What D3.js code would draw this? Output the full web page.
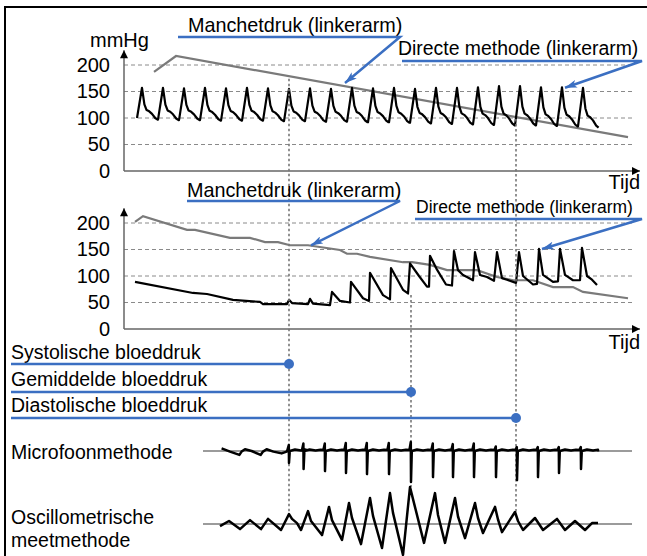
<!DOCTYPE html>
<html>
<head>
<meta charset="utf-8">
<script src="https://cdn.jsdelivr.net/npm/d3@7"></script>
<style>
  body { margin: 0; background: #fff; }
  svg { display: block; font-family: "Liberation Sans", Arial, sans-serif; }
</style>
</head>
<body>
<div id="chart"></div>
<script>
// ---------- data (time in s, pressure in mmHg) ----------
const yTicks = [0, 50, 100, 150, 200]
const gridTicks = [50, 100, 150, 200]

// top panel: cuff pressure
const cuffTopT = [1.5, 2.6, 25.2]
const cuffTopP = [187, 217, 64]

// top panel: direct arterial pressure, one entry per beat
const beatPeakT = [0.9, 1.95, 3.0, 4.05, 5.1, 6.15, 7.2, 8.25, 9.3, 10.35, 11.4,
                   12.45, 13.5, 14.55, 15.6, 16.65, 17.7, 18.75, 19.8, 20.85, 21.9, 22.95]
const beatPeakP = [157, 157, 156, 157, 156, 157, 156, 155, 156, 155, 157,
                   156, 157, 155, 157, 157, 158, 160, 160, 158, 158, 157]
const beatBaseP = [100, 97, 96, 96, 95, 95, 95, 94, 94, 93, 93,
                   92, 92, 91, 90, 89, 88, 87, 86, 86, 85, 84, 82]
// shape of one beat: seconds from peak, share of pulse height
const pulseShapeT = [-0.25, 0, 0.12, 0.23, 0.36, 0.5, 0.66, 0.78]
const pulseShapeF = [0, 1, 0.48, 0.3, 0.26, 0.18, 0.05, 0]

// lower panel: cuff pressure
const cuffLowT = [0.55, 0.95, 3.15, 3.55, 5.3, 6.3, 7.05, 7.7, 8.3, 9.2, 10.8, 11.15, 11.65,
                  12.3, 13.95, 14.4, 15.3, 16.15, 17.65, 18.65, 19.45, 20.45, 21.45, 22.45, 22.95, 25.2]
const cuffLowP = [202, 213, 187, 187, 172, 172, 164, 164, 158, 158, 149, 142, 142,
                  136, 126, 126, 121, 111, 111, 98, 92, 92, 79, 79, 70, 58]

// lower panel: direct arterial pressure
const artLowT = [0.55, 3.45, 4.15, 5.45, 6.8, 6.95, 8.15, 8.25, 8.4, 9.2, 9.3, 9.45, 10.3,
                 10.4, 10.8, 11.3, 11.35, 11.95, 12.25, 12.3, 12.95, 13.3, 13.35, 13.95, 14.2,
                 14.3, 14.75, 15.15, 15.25, 15.3, 15.65, 16.1, 16.4, 16.5, 16.7, 16.95, 17.15, 17.45,
                 17.55, 17.8, 18.15, 18.5, 18.65, 18.9, 19.15, 19.6, 19.75, 19.95, 20.45, 20.65,
                 20.75, 20.95, 21.45, 21.7, 21.8, 22.05, 22.45, 22.8, 22.9, 23.15, 23.4, 23.65]
const artLowP = [89, 68, 66, 55, 51, 47, 47, 55, 49, 47, 57, 48, 45,
                 70, 53, 50, 89, 58, 53, 106, 64, 56, 115, 74, 67,
                 124, 100, 80, 80, 138, 112, 84, 82, 147, 111, 102, 98, 92,
                 145, 102, 98, 91, 145, 96, 93, 87, 145, 100, 84, 85,
                 151, 102, 89, 90, 151, 102, 92, 92, 153, 100, 93, 83]

// microphone method (arbitrary units)
const micPreT = [4.88, 5.3, 5.77, 5.88, 6.05, 6.38, 6.83, 6.95, 7.13, 7.47, 7.88, 8.13]
const micPreV = [0.9, -0.2, -1.3, -0.2, 0.6, 0, -1.3, -0.2, 0.6, -0.2, -0.8, -0.2]
const micBeatT = [8.25, 8.98, 10.05, 11.1, 12.15, 13.25, 14.35, 15.45, 16.45, 17.5,
                  18.6, 19.65, 20.7, 21.75, 22.85]
const micBeatDepth = [4, 6, 6.7, 7.3, 7.7, 7.7, 10.3, 8.7, 8.7, 8.7, 8.7, 9.7, 8.7, 7.3, 6]
const micBeatUp = [2, 2.5, 2.5, 2.7, 2.7, 2.7, 3, 2.5, 2.3, 2.5, 1.5, 1.3, 1.3, 1.3, 1.3]
const micEnd = [23.7, -0.2]

// oscillometric method (arbitrary units)
const oscT = [4.8, 5.25, 5.8, 6.3, 6.85, 7.2, 7.85, 8.25, 8.4, 8.65, 8.85, 9.2, 9.35, 9.9,
              10.25, 10.4, 10.9, 11.25, 11.4, 11.85, 12.3, 12.45, 12.9, 13.3, 13.45, 13.95,
              14.3, 15.0, 15.55, 15.7, 16.05, 16.55, 16.7, 17.05, 17.55, 17.7, 17.95,
              18.55, 18.7, 18.9, 19.55, 19.7, 19.95, 20.55, 20.95, 21.65, 22.05, 22.55, 23.05, 23.4, 23.7]
const oscV = [-0.7, 1, -1.7, 1.3, -1.7, 1.7, -2, 3.3, 1.7, 0.3, -2, 4.3, 1, -3.7,
              5.7, 1.3, -5.3, 7, 2, -6.7, 8.7, 2.7, -8, 10.3, 3.7, -10.3,
              12.3, -6.3, 10.3, 3, -6.3, 8.7, 2.5, -4.7, 7, 2, -3,
              5.7, 1.5, -2.7, 4, 1, -2, 2, -2, 1.7, -2, 1, -2, 0.3, 0.3]

// blood pressure read-outs
const bpNames = ["Systolische bloeddruk", "Gemiddelde bloeddruk", "Diastolische bloeddruk"]
const bpT = [8.25, 14.35, 19.6]
const bpStartPanel = ["top", "low", "top"]
const bpStartP = [174, 64, 98]
const bpEndOsc = [3.3, 12.3, 4]

// annotation targets [time, mmHg]
const annTop = [[11.05, 166], [22.05, 157]]
const annLow = [[9.35, 158], [20.9, 151]]

// ---------- drawing ----------
const svg = d3.select("#chart").append("svg")
    .attr("width", 647)
    .attr("height", 556)

const blue = "#3b6fc2"
const grey = "#7a7a7a"

const defs = svg.append("defs")
defs.append("marker").attr("id", "arrowBlk")
    .attr("viewBox", "0 0 10 10").attr("refX", 10).attr("refY", 5)
    .attr("markerUnits", "userSpaceOnUse")
    .attr("markerWidth", 10).attr("markerHeight", 8)
    .attr("orient", "auto")
    .append("path").attr("d", "M0,0L10,5L0,10z").attr("fill", "#000")
defs.append("marker").attr("id", "arrowBlue")
    .attr("viewBox", "0 0 12 8").attr("refX", 12).attr("refY", 4)
    .attr("markerUnits", "userSpaceOnUse")
    .attr("markerWidth", 12).attr("markerHeight", 8)
    .attr("orient", "auto")
    .append("path").attr("d", "M0,0L12,4L0,8L3,4z").attr("fill", blue)

// frame
svg.append("path")
    .attr("d", "M5,560V7H660")
    .attr("fill", "none").attr("stroke", "#000").attr("stroke-width", 2)

const x = d3.scaleLinear().domain([0, 25.8]).range([124, 640])
const yTop = d3.scaleLinear().domain([0, 200]).range([171, 65])
const yLow = d3.scaleLinear().domain([0, 200]).range([329, 223])
const yMic = d3.scaleLinear().domain([-10, 10]).range([481, 421])
const yOsc = d3.scaleLinear().domain([-10, 10]).range([554, 494])
const gridEnd = 25.4
const axisTop = 228

function panel(y) {
    let g = svg.append("g")
    g.selectAll("line.grid").data(gridTicks).enter().append("line")
        .attr("x1", x(0)).attr("x2", x(gridEnd))
        .attr("y1", d => y(d)).attr("y2", d => y(d))
        .attr("stroke", "#8a8a8a").attr("stroke-width", 1)
        .attr("stroke-dasharray", "4,3")

    let ax = g.append("g")
        .attr("transform", "translate(" + x(0) + ",0)")
        .call(d3.axisLeft(y).tickValues(yTicks).tickSize(0).tickPadding(14))
    ax.select(".domain").remove()
    ax.selectAll("text")
        .style("font-size", "20px")
        .attr("fill", "#000")
        .attr("font-family", "'Liberation Sans', Arial, sans-serif")

    g.append("line")
        .attr("x1", x(0)).attr("x2", x(0))
        .attr("y1", y(0)).attr("y2", y(axisTop))
        .attr("stroke", "#666").attr("stroke-width", 1.5)
        .attr("marker-end", "url(#arrowBlk)")
    g.append("line")
        .attr("x1", x(0)).attr("x2", x.range()[1])
        .attr("y1", y(0)).attr("y2", y(0))
        .attr("stroke", "#666").attr("stroke-width", 1.5)
        .attr("marker-end", "url(#arrowBlk)")
    return g
}

const gTop = panel(yTop)
const gLow = panel(yLow)

svg.append("text").attr("x", 90).attr("y", 47).text("mmHg").style("font-size", "20px")
svg.append("text").attr("x", 640).attr("y", 189).attr("text-anchor", "end").text("Tijd").style("font-size", "20px")
svg.append("text").attr("x", 640).attr("y", 349).attr("text-anchor", "end").text("Tijd").style("font-size", "20px")

// dotted read-out lines
bpT.forEach((t, i) => {
    let yStart = bpStartPanel[i] == "top" ? yTop(bpStartP[i]) : yLow(bpStartP[i])
    svg.append("line")
        .attr("x1", x(t)).attr("x2", x(t))
        .attr("y1", yStart).attr("y2", yOsc(bpEndOsc[i]))
        .attr("stroke", "#777").attr("stroke-width", 1.6)
        .attr("stroke-dasharray", "2.5,2.5")
})

const line = (yS) => d3.line().x(d => x(d[0])).y(d => yS(d[1]))

// cuff pressures
gTop.append("path")
    .datum(d3.zip(cuffTopT, cuffTopP))
    .attr("d", line(yTop))
    .attr("fill", "none").attr("stroke", grey).attr("stroke-width", 2.2)
gLow.append("path")
    .datum(d3.zip(cuffLowT, cuffLowP))
    .attr("d", line(yLow))
    .attr("fill", "none").attr("stroke", grey).attr("stroke-width", 2.2)

// arterial pressure, top
const artTop = []
beatPeakT.forEach((tp, i) => {
    pulseShapeT.forEach((dt, j) => {
        let base = j == 0 ? beatBaseP[i] : beatBaseP[i + 1]
        artTop.push([tp + dt, base + pulseShapeF[j] * (beatPeakP[i] - base)])
    })
})
gTop.append("path")
    .datum(artTop)
    .attr("d", line(yTop))
    .attr("fill", "none").attr("stroke", "#000").attr("stroke-width", 2.2)
    .attr("stroke-linejoin", "round")

gLow.append("path")
    .datum(d3.zip(artLowT, artLowP))
    .attr("d", line(yLow))
    .attr("fill", "none").attr("stroke", "#000").attr("stroke-width", 2.2)
    .attr("stroke-linejoin", "round")

// annotations
function annotate(label, tx, ty, size, ux0, ux1, uy, target, yS) {
    svg.append("text").attr("x", tx).attr("y", ty).text(label).style("font-size", size + "px")
    svg.append("path")
        .attr("d", "M" + ux0 + "," + uy + "H" + ux1 + "L" + x(target[0]) + "," + yS(target[1]))
        .attr("fill", "none").attr("stroke", blue).attr("stroke-width", 2.5)
        .attr("marker-end", "url(#arrowBlue)")
}
annotate("Manchetdruk (linkerarm)", 188, 32, 19.8, 178, 400, 37, annTop[0], yTop)
annotate("Directe methode (linkerarm)", 398, 55, 19.4, 402, 642, 61, annTop[1], yTop)
annotate("Manchetdruk (linkerarm)", 187, 197, 19.8, 187, 400, 201, annLow[0], yLow)
annotate("Directe methode (linkerarm)", 416, 213, 17.5, 415, 642, 219, annLow[1], yLow)

// blood pressure labels
const bpLabelY = [359, 386, 412]
const bpLineY = [364, 392, 418]
bpNames.forEach((name, i) => {
    svg.append("text").attr("x", 11).attr("y", bpLabelY[i]).text(name).style("font-size", "19.5px")
    svg.append("line")
        .attr("x1", 11).attr("x2", x(bpT[i]))
        .attr("y1", bpLineY[i]).attr("y2", bpLineY[i])
        .attr("stroke", blue).attr("stroke-width", 2.5)
    svg.append("circle")
        .attr("cx", x(bpT[i])).attr("cy", bpLineY[i]).attr("r", 5)
        .attr("fill", blue)
})

// method labels
svg.append("text").attr("x", 11).attr("y", 459).text("Microfoonmethode").style("font-size", "19.5px")
svg.append("text").attr("x", 11).attr("y", 524).text("Oscillometrische").style("font-size", "19.5px")
svg.append("text").attr("x", 11).attr("y", 547).text("meetmethode").style("font-size", "19.5px")

// baselines
const baseT = [3.95, gridEnd]
svg.append("line").attr("x1", x(baseT[0])).attr("x2", x(baseT[1]))
    .attr("y1", yMic(0)).attr("y2", yMic(0))
    .attr("stroke", grey).attr("stroke-width", 1.5)
svg.append("line").attr("x1", x(baseT[0])).attr("x2", x(baseT[1]))
    .attr("y1", yOsc(0)).attr("y2", yOsc(0))
    .attr("stroke", grey).attr("stroke-width", 1.5)

// microphone trace
const micPts = d3.zip(micPreT, micPreV)
micBeatT.forEach((t, i) => {
    let up = micBeatUp[i], dn = micBeatDepth[i]
    micPts.push([t - 0.08, 0.3], [t - 0.01, up], [t, -dn], [t + 0.04, 0],
                [t + 0.3, 0.5], [t + 0.6, 0.2], [t + 0.85, 0.4])
})
micPts.push(micEnd)
svg.append("path")
    .datum(micPts)
    .attr("d", line(yMic))
    .attr("fill", "none").attr("stroke", "#000").attr("stroke-width", 2.5)
    .attr("stroke-linejoin", "round")

// oscillometric trace
svg.append("path")
    .datum(d3.zip(oscT, oscV))
    .attr("d", line(yOsc))
    .attr("fill", "none").attr("stroke", "#000").attr("stroke-width", 2.5)
    .attr("stroke-linejoin", "round")
</script>
</body>
</html>
